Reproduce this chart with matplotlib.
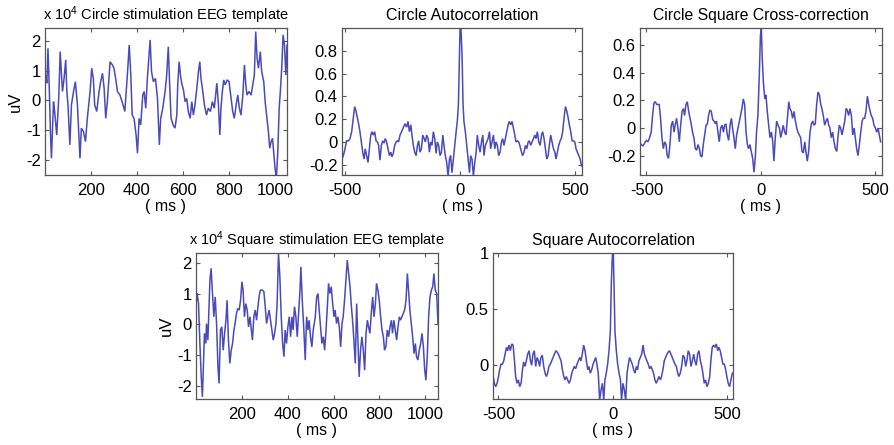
import matplotlib
matplotlib.use("Agg")
import matplotlib.pyplot as plt

plt.rcParams['font.family'] = ['Liberation Sans', 'DejaVu Sans']
plt.rcParams['mathtext.fontset'] = 'custom'
plt.rcParams['mathtext.rm'] = 'Liberation Sans'
plt.rcParams['mathtext.default'] = 'regular'
plt.rcParams['axes.unicode_minus'] = False

# ---------------- data ----------------
circle_t = [1, 4, 9, 14, 20, 25, 29, 38, 43, 52, 61, 67, 77, 84, 91, 96, 101, 109, 116, 125,
            133, 142, 148, 153, 159, 168, 177, 185, 197, 204, 211, 217, 226, 236, 243, 251, 258, 265, 272, 284,
            294, 301, 309, 316, 327, 338, 348, 359, 367, 374, 380, 388, 397, 403, 410, 417, 426, 432, 439, 446,
            458, 464, 472, 481, 490, 498, 504, 513,
            523, 530, 537, 543, 549, 558, 566, 574, 578, 584, 590, 595, 603, 610, 617, 624, 632, 639, 646, 653,
            661, 668, 674, 679, 687, 694, 703, 711, 720, 729, 737, 748, 755, 761, 766, 772, 778, 784, 793, 801,
            810, 817, 824, 832, 839, 846, 853, 861, 868, 874, 879, 888, 897, 904, 911, 917, 923, 929, 937, 943,
            952, 958, 966, 972, 978, 984, 990, 995, 1001, 1007, 1013, 1019, 1024, 1030, 1036, 1042, 1048, 1053]
circle_uv = [0.74, 0.85, 0.58, 1.75, 0.30, -1.16, -1.94, -0.04, -0.37, -1.16,
             0.13, 1.64, 0.30, 0.74, 1.36, 0.30, -0.15, -1.49, -0.15, 0.30,
             0.63, -0.15, -1.16, -1.94, -0.93, -1.04, -1.38, -0.60, 0.30, 1.08,
             0.74, -0.15, -0.37, 0.30, 0.63, 0.91, 0.41, -0.60, -0.04, 1.30,
             1.19, 1.08, 0.69, 0.30, 0.18, -0.09, -0.37, 0.85, 1.86, 0.85,
             -0.49, -0.60, -1.16, -1.77, -0.60, -0.82, 0.18, 0.30, -0.26, 0.74,
             2.03, 0.97, 0.63, 0.74, 0.07, -1.49, -0.60, -0.26,
             0.30, 0.85, 1.80, 0.52, -0.60, -0.82, -0.93, -0.49, 0.52, 1.30,
             0.85, 0.58, 0.35, -0.04, 0.07, -0.37, -0.60, -0.04, -0.49, -0.15,
             0.41, 0.97, 1.30, 0.74, 0.30, -0.15, -0.49, -0.26, -0.37, -0.04,
             -0.26, 0.58, -0.15, -1.16, -0.26, 0.30, 0.69, 0.52, 0.69, 0.63,
             0.07, -0.37, -0.60, -0.15, 0.18, -0.26, -0.49, 0.18, 1.19, 0.52,
             0.18, 0.30, 0.18, 0.52, 0.85, 2.31, 1.41, 1.08, 1.64, 0.97,
             0.63, -0.04, -0.60, -1.04, -1.60, -1.38, -1.27, -1.72, -2.27, -2.60,
             -1.72, -0.26, 0.30, 1.08, 2.20, 1.86, 0.85, 1.86]

square_t = [1, 3, 9, 15, 21, 26, 35, 41, 44, 50, 59, 64, 70, 76, 82, 88, 94, 99, 105, 111,
            117, 123, 129, 134, 140, 146, 152, 158, 164, 169, 175, 181, 187, 193, 199, 204, 210, 216, 222, 228,
            234, 240, 245, 251, 257, 263, 269, 275, 280, 288, 295, 301, 307, 312, 318, 324, 330, 336, 342, 348,
            353, 359, 365, 371, 377, 383, 388, 394, 400, 406, 412, 418, 423, 429, 435, 441, 447, 453, 457, 463,
            470, 476, 482, 488, 493, 499, 505, 511,
            520, 526, 532, 537, 543, 549, 555, 561, 567, 572, 578, 584, 590, 596, 602, 607, 613, 619, 625, 631,
            637, 642, 648, 654, 660, 666, 672, 677, 683, 689, 695, 701, 707, 712, 718, 724, 730, 736, 742, 748,
            753, 759, 765, 771, 777, 783, 788, 794, 800, 806, 812, 818, 823, 829, 835, 841, 847, 853, 858, 864,
            870, 876, 882, 888, 893, 899, 905, 911, 917, 923, 928, 934, 940, 946, 952, 958, 963, 969, 975, 981,
            987, 993, 999, 1004, 1010, 1016, 1022, 1028, 1034, 1039, 1045, 1051, 1057]
square_uv = [0.79, 1.01, 0.68, -0.62, -1.71, -2.36, -0.29, -0.62, 0.03, -0.51,
             1.45, 1.83, 1.01, 0.25, 0.90, 0.03, -1.38, -1.92, -0.18, -0.08,
             -0.84, -0.29, 0.14, 0.79, -0.51, -1.27, -0.84, -0.62, -0.18, 0.03,
             0.36, 0.52, 0.47, 0.79, 1.39, 1.12, 0.25, 0.68, 0.47, -0.08,
             0.25, -0.18, -0.51, 0.25, 0.47, 0.14, 0.58, 0.96, 1.12, 1.12,
             1.07, 0.58, 0.03, 0.25, 0.47, 0.14, -0.18, -0.51, -0.29, 0.03,
             0.68, 2.32, 1.55, 0.25, -0.62, -1.05, -0.18, -0.62, -0.08, 0.25,
             -0.40, 0.25, -0.18, 0.58, 0.25, -0.40, 0.36, 1.12, 1.88, 0.79,
             -0.18, -1.16, 0.25, -0.18, 0.14, -0.40, -0.73, -0.18,
             0.25, 0.90, 1.01, 0.47, -0.08, -0.62, -0.40, -0.84, -0.18, 0.47,
             1.34, 1.01, 1.23, 0.68, 0.25, 0.47, 0.03, 0.25, -0.08, -0.73,
             0.03, 0.25, 0.79, 1.45, 2.10, 1.66, 1.23, 0.68, 0.14, -0.51,
             -1.27, 0.68, -0.62, -1.71, -0.84, -0.40, -0.84, -1.49, -0.29, 0.14,
             -0.08, -0.29, 0.36, 0.90, 0.25, 0.68, 1.34, 1.12, 0.79, 0.25,
             -0.18, -0.40, -0.84, -0.73, -0.18, -0.40, -0.08, 0.14, -0.29, 0.14,
             -0.18, -0.51, -0.08, 0.25, 0.14, 0.25, 0.36, 0.47, 0.79, 1.66,
             1.12, 0.47, 0.03, -0.40, -0.95, -0.62, -1.05, -1.16, -0.84, -0.62,
             -0.29, -0.73, -1.49, -1.82, -1.05, 0.25, 0.90, 1.12, 1.23, 1.66,
             1.12, 1.01, 0.03]

circ_lag = [-513, -507, -500, -493, -485, -478, -471, -464, -458, -452, -446, -440, -435, -429, -423, -417,
            -412, -406, -400, -394, -388, -383, -377, -371, -365, -359, -354, -348, -342, -336, -330, -325,
            -319, -313, -307, -301, -296, -290, -284, -278, -272, -267, -261, -254, -246, -239, -232, -226,
            -220, -214, -209, -203, -197, -191, -185, -180, -174, -168, -162, -156, -151, -145, -139, -133,
            -128, -122, -116, -110, -104, -99, -93, -87, -81, -75, -70, -64, -58, -52, -46, -41, -35, -29,
            -23, -17, -12, -7, -3, 0, 4, 9, 13, 17, 23, 29, 35, 41, 46, 52, 58, 64, 70, 75, 81, 87, 93, 99,
            104, 110, 116, 122, 128, 133, 139, 145, 151, 156, 162, 168, 174, 180, 185, 191, 197, 203, 209,
            214, 220, 226, 232, 238, 243, 249, 255, 261, 267, 272, 278, 284, 290, 296, 301, 307, 313, 319,
            325, 330, 336, 342, 348, 354, 359, 365, 371, 377, 383, 388, 394, 400, 406, 412, 417, 423, 429,
            435, 440, 446, 452, 458, 464, 470, 475, 481, 487, 493, 499, 504, 510, 516, 522, 528]
circ_ac = [-0.15, -0.12, -0.06, 0.01, 0.01, 0.03, 0.09, 0.21, 0.31, 0.27, 0.21, 0.15, 0.09, 0.0, -0.09, -0.15,
           -0.06, -0.12, -0.18, -0.06, 0.06, 0.09, 0.06, 0.09, 0.01, 0.0, -0.03, -0.16, -0.03, 0.01, -0.01, 0.03,
           0.0, -0.06, -0.12, -0.09, -0.13, -0.10, -0.03, 0.0, 0.01, 0.0, 0.06, 0.09, 0.13, 0.16, 0.13, 0.18,
           0.09, 0.15, 0.06, -0.03, -0.09, -0.12, -0.03, 0.01, -0.09, -0.06, 0.06, 0.03, 0.0, 0.06, 0.03, -0.09,
           0.0, -0.03, 0.09, 0.03, -0.10, 0.0, -0.03, -0.12, -0.09, 0.06, -0.03, -0.12, -0.18, -0.30, -0.15, -0.12, -0.27, -0.15,
           -0.03, 0.09, 0.18, 0.33, 0.74, 1.0, 1.0, 0.74, 0.33, 0.18, 0.09, -0.03, -0.15, -0.27, -0.12, -0.15, -0.30, -0.18, -0.09, 0.06, -0.03, -0.09, 0.0, 0.06,
           -0.12, -0.03, 0.0, 0.03, 0.09, -0.06, 0.0, 0.06, -0.06, 0.0, -0.03, -0.12, -0.09, 0.0, 0.03, -0.03, 0.03, 0.09, 0.15,
           0.18, 0.15, 0.18, 0.12, 0.06, 0.0, 0.01, 0.0, -0.04, -0.09, -0.12, -0.09, -0.03, -0.06, 0.0, 0.01, -0.03, 0.0, 0.03,
           0.06, 0.03, 0.09, 0.0, -0.03, 0.06, 0.09, 0.03, -0.06, -0.15, -0.12, -0.03, 0.06, 0.0, -0.06, -0.09, -0.15, -0.09, -0.03,
           0.01, 0.03, 0.09, 0.21, 0.31, 0.27, 0.21, 0.15, 0.09, 0.01, 0.01, 0.0, -0.06, -0.09, -0.12, -0.15, -0.21]

cross_lag = [-528, -522, -515, -508, -500, -493, -486, -479, -473, -467, -461, -455, -449, -444, -438, -432,
             -426, -420, -414, -409, -403, -397, -391, -385, -379, -374, -368, -362, -356, -350, -344, -338,
             -333, -327, -321, -315, -309, -303, -298, -292, -286, -280, -274, -268, -263, -257, -251, -245,
             -239, -233, -228, -222, -216, -210, -204, -198, -193, -187, -181, -175, -169, -163, -158, -152,
             -146, -140, -134, -128, -123, -117, -111, -105, -99, -93, -88, -82, -76, -70, -64, -58, -53, -47,
             -41, -35, -29, -23, -18, -12, -6, -1, 3, 7, 12, 18, 23, 29, 35, 41, 47, 53, 58, 64, 70, 76, 82,
             88, 93, 99, 105, 111, 117, 123, 128, 134, 140, 146, 152, 158, 163, 169, 175, 181, 187, 193, 198,
             204, 210, 216, 222, 228, 233, 239, 245, 251, 257, 263, 268, 274, 280, 286, 292, 298, 303, 309,
             315, 321, 327, 333, 338, 344, 350, 356, 362, 368, 374, 379, 385, 391, 397, 403, 409, 414, 420,
             426, 432, 438, 444, 449, 455, 461, 467, 473, 479, 484, 490, 496, 502, 508, 514, 519, 525]
cross_val = [-0.11, -0.12, -0.13, -0.11, -0.09, -0.10, -0.07, -0.03, 0.09, 0.18, 0.19, 0.17, 0.17, 0.17, 0.07, -0.07,
             -0.15, -0.10, -0.12, -0.20, -0.22, -0.12, 0.02, 0.05, -0.03, 0.02, 0.07, 0.0, -0.10, 0.02, 0.12, 0.14,
             0.09, 0.17, 0.19, 0.12, 0.07, 0.02, -0.03, -0.07, -0.15, -0.16, -0.12, -0.15, -0.20, -0.21, -0.12, -0.05,
             0.02, 0.03, 0.09, 0.13, 0.12, 0.06, 0.05, 0.03, 0.05, -0.03, -0.10, 0.0, 0.02, -0.03, 0.02, 0.03,
             -0.05, -0.09, 0.02, 0.07, 0.0, -0.07, -0.15, -0.05, 0.0, 0.05, 0.09, 0.14, 0.21, 0.17, -0.03, -0.12, -0.15, -0.12,
             -0.17, -0.22, -0.32, -0.20, -0.03, 0.09, 0.38, 0.67, 0.72, 0.50, 0.33, 0.21, 0.24, 0.12, 0.02, -0.07, -0.03, -0.10, -0.24, -0.07, 0.05, 0.02, 0.0,
             -0.07, -0.03, 0.02, -0.03, -0.05, 0.07, 0.19, 0.14, 0.12, 0.07, 0.12, 0.05, 0.0, -0.03, -0.05, -0.07, -0.17, -0.18, -0.10, -0.17,
             -0.24, -0.17, -0.03, 0.03, 0.05, 0.02, 0.03, 0.17, 0.26, 0.24, 0.17, 0.14, 0.09, 0.02, 0.05, 0.07, 0.02, 0.0, -0.07,
             -0.03, -0.10, -0.15, -0.17, -0.07, 0.02, 0.0, -0.05, 0.0, 0.05, 0.14, 0.13, 0.09, 0.14, 0.09, -0.05, 0.0, -0.07, -0.15,
             -0.20, -0.12, -0.03, 0.05, 0.07, 0.07, 0.12, 0.23, 0.17, 0.12, 0.09, 0.07, 0.02, 0.0, -0.03, 0.0, -0.05, -0.10]

sq_lag = [-524, -518, -512, -506, -500, -495, -489, -483, -477, -471, -465, -460, -454, -448, -442, -436,
          -430, -425, -419, -413, -407, -401, -395, -390, -384, -378, -372, -366, -360, -355, -349, -343,
          -337, -331, -325, -320, -314, -308, -302, -296, -290, -285, -279, -273, -267, -261, -255, -249,
          -244, -238, -232, -226, -220, -214, -209, -203, -197, -191, -185, -179, -174, -168, -162, -156,
          -150, -144, -139, -133, -127, -121, -115, -109, -104, -98, -92, -86, -80, -74, -69, -63, -57, -51,
          -45, -39, -34, -28, -22, -16, -10, -6, -1, 3, 6, 10, 16, 22, 28, 34, 39, 45, 51, 57, 63, 69, 74,
          80, 86, 92, 98, 104, 109, 115, 121, 127, 133, 139, 144, 150, 156, 162, 168, 174, 179, 185, 191,
          197, 203, 209, 214, 220, 226, 232, 238, 244, 249, 255, 261, 267, 273, 279, 285, 290, 296, 302,
          308, 314, 320, 325, 331, 337, 343, 349, 355, 360, 366, 372, 378, 384, 390, 395, 401, 407, 413,
          419, 425, 430, 436, 442, 448, 454, 460, 465, 471, 477, 483, 489, 495, 500, 506, 512, 518, 524]
sq_ac = [-0.09, -0.16, -0.19, -0.16, -0.10, -0.04, 0.01, 0.01, 0.04, 0.10, 0.16, 0.13, 0.18, 0.13, 0.19, 0.18,
         0.04, -0.10, -0.16, -0.13, -0.19, -0.16, -0.04, 0.03, -0.01, 0.04, 0.10, 0.13, 0.04, 0.0, 0.10, 0.13,
         -0.01, 0.07, 0.04, -0.01, 0.07, 0.09, -0.01, -0.07, -0.10, -0.07, -0.01, 0.01, 0.04, 0.07, 0.10, 0.13,
         0.12, 0.10, 0.07, 0.04, -0.04, -0.10, -0.13, -0.10, -0.13, -0.16, -0.13, -0.07, -0.04, -0.01, -0.03, 0.01,
         0.04, 0.07, 0.04, 0.10, 0.18, 0.13, 0.04, -0.04, -0.01, -0.07, -0.04, 0.01, 0.04, 0.07, 0.01, -0.07, -0.31, -0.22,
         -0.16, -0.31, -0.13, -0.07, 0.01, 0.13, 0.31, 0.72, 0.99, 0.99, 0.72, 0.31, 0.13, 0.01, -0.07, -0.13, -0.31, -0.16, -0.22, -0.31, -0.07, 0.01, 0.07,
         0.04, 0.01, -0.04, -0.07, -0.01, -0.04, 0.04, 0.07, 0.10, 0.18, 0.10, 0.07, 0.04, 0.01, -0.03, -0.01, -0.04, -0.07, -0.13, -0.16,
         -0.13, -0.10, -0.13, -0.10, -0.04, 0.04, 0.07, 0.10, 0.12, 0.13, 0.10, 0.07, 0.04, 0.01, -0.01, -0.07, -0.10, -0.07, -0.01,
         0.09, 0.07, -0.01, 0.04, 0.13, 0.10, -0.01, 0.04, 0.10, 0.04, 0.0, 0.10, 0.13, 0.04, -0.01, -0.07, -0.16, -0.13, -0.19,
         -0.16, -0.10, 0.04, 0.16, 0.18, 0.16, 0.19, 0.13, 0.16, 0.13, 0.07, 0.01, 0.01, -0.04, -0.10, -0.16, -0.19, -0.13, -0.07]

eeg_xticks = [200, 400, 600, 800, 1000]
lag_xticks = [-500, 0, 500]

# ---------------- figure ----------------
W, H = 894, 445
fig = plt.figure(figsize=(W / 100, H / 100), dpi=100)

LINE = '#4a4abb'
FS_TICK = 12
FS_LABEL = 11.5


def box(l, r, t, b):
    return [l / W, 1 - b / H, (r - l) / W, (b - t) / H]


def style(ax):
    for s in ax.spines.values():
        s.set_color('#555555')
        s.set_linewidth(0.9)
    ax.tick_params(direction='in', top=True, right=True, length=3, width=0.8,
                   color='#555555', labelsize=FS_TICK)
    ax.tick_params(axis='x', pad=5.5)
    ax.tick_params(axis='y', pad=3)
    ax.set_xlabel('( ms )', fontsize=FS_LABEL, labelpad=1)


panels = [
    dict(pos=box(45, 287, 28, 175), x=circle_t, y=circle_uv, xlim=(1, 1053), ylim=(-2.5, 2.43),
         xt=eeg_xticks, yt=[-2, -1, 0, 1, 2], title='x 10$^4$ Circle stimulation EEG template',
         tfs=10.5, ylab=True),
    dict(pos=box(342, 582, 28, 175), x=circ_lag, y=circ_ac, xlim=(-513, 530), ylim=(-0.29, 1.0),
         xt=lag_xticks, yt=[-0.2, 0, 0.2, 0.4, 0.6, 0.8], title='Circle Autocorrelation',
         tfs=11.5, ylab=False),
    dict(pos=box(640, 882, 28, 175), x=cross_lag, y=cross_val, xlim=(-528, 531), ylim=(-0.34, 0.723),
         xt=lag_xticks, yt=[-0.2, 0, 0.2, 0.4, 0.6], title='Circle Square Cross-correction',
         tfs=11.3, ylab=False),
    dict(pos=box(196, 438, 253, 399), x=square_t, y=square_uv, xlim=(-2, 1057), ylim=(-2.43, 2.33),
         xt=eeg_xticks, yt=[-2, -1, 0, 1, 2], title='x 10$^4$ Square stimulation EEG template',
         tfs=10.5, ylab=True),
    dict(pos=box(493, 733, 253, 399), x=sq_lag, y=sq_ac, xlim=(-524, 527), ylim=(-0.30, 1.0),
         xt=lag_xticks, yt=[0, 0.5, 1], title='Square Autocorrelation',
         tfs=11.5, ylab=False),
]

for p in panels:
    ax = fig.add_axes(p['pos'])
    ax.plot(p['x'], p['y'], color=LINE, lw=1.1, solid_joinstyle='miter')
    ax.set_xlim(*p['xlim'])
    ax.set_ylim(*p['ylim'])
    ax.set_xticks(p['xt'])
    ax.set_yticks(p['yt'])
    ax.set_yticklabels(['%g' % v for v in p['yt']])
    style(ax)
    ax.set_title(p['title'], fontsize=p['tfs'], pad=6)
    if p['ylab']:
        ax.set_ylabel('uV', fontsize=12, labelpad=2)

fig.savefig('out.png', dpi=100)
